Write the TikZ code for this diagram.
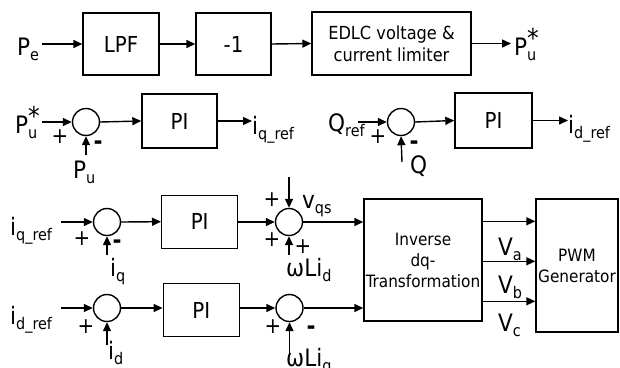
\documentclass[tikz,border=0pt]{standalone}
\usepackage{fontspec}
\setmainfont{DejaVu Sans Condensed}
\usetikzlibrary{arrows.meta}
\newcommand\sbs[1]{\raisebox{-5pt}{\fontsize{16}{16}\selectfont #1}}
\newcommand\stt{\raisebox{8pt}{\fontsize{26}{26}\selectfont *}}
\begin{document}
\begin{tikzpicture}[x=1pt,y=-1pt,
  blk/.style={draw,line width=1.4pt,inner sep=0pt,align=center,font=\fontsize{22}{24}\selectfont},
  sblk/.style={draw,line width=1.4pt,inner sep=0pt,align=center,font=\fontsize{17}{21}\selectfont},
  sum/.style={draw,circle,line width=1.4pt,minimum size=27pt,inner sep=0pt},
  lbl/.style={inner sep=0pt,anchor=base west,font=\fontsize{24}{26}\selectfont},
  sgn/.style={inner sep=0pt,font=\fontsize{22}{22}\selectfont},
  mns/.style={inner sep=0pt,font=\fontsize{24}{24}\selectfont\bfseries},
  arr/.style={line width=1.4pt,-{Triangle[length=9pt,width=8pt]}}]
\useasboundingbox (0,0) rectangle (620,367);
% ---------- row 1
\node[lbl] (pe) at (17,55) {P\sbs{e}};
\node[blk,minimum width=76pt,minimum height=62pt] (lpf) at (121,44) {LPF};
\node[blk,minimum width=75pt,minimum height=62pt] (neg) at (233.5,44) {-1};
\node[sblk,minimum width=159pt,minimum height=63pt,font=\fontsize{18}{22}\selectfont] (edlc) at (391.5,43.5) {EDLC voltage \&\\current limiter};
\node[lbl] (pus) at (514,55) {P\rlap{\sbs{u}}\stt};
\draw[arr,shorten <=3pt] (pe.east |- lpf.west) -- (lpf.west);
\draw[arr] (lpf.east) -- (neg.west);
\draw[arr] (neg.east) -- (edlc.west);
\draw[arr,shorten >=3pt] (edlc.east) -- (edlc.east -| pus.west);
% ---------- row 2 left
\node[lbl] (pu1) at (15,133) {P\rlap{\sbs{u}}\stt};
\node[sum] (s1) at (86,122) {};
\node[sgn] (p1) at (60,137) {+};
\node[mns] (m1) at (98,145) {-};
\node[lbl] (pu2) at (73,178) {P\sbs{u}};
\coordinate (s1b) at (86,155);
\node[blk,minimum width=75pt,minimum height=54pt] (pi1) at (179.5,121) {PI};
\node[lbl] (iqr1) at (252,134) {i\sbs{q\_ref}};
\draw[arr,shorten <=2pt] (pu1.east |- s1.west) -- (s1.west);
\draw[arr] (s1b) -- (s1.south);
\draw[arr] (s1.east) -- (pi1.west);
\draw[arr] (pi1.east) -- (pi1.east -| iqr1.west);
% ---------- row 2 right
\node[lbl] (qref) at (328,131) {Q\sbs{ref}};
\node[sum] (s2) at (401,122) {};
\node[sgn] (p2) at (378,137) {+};
\node[mns] (m2) at (414,145) {-};
\node[lbl] (q) at (410,173) {Q};
\coordinate (s2b) at (402,162);
\node[blk,minimum width=77pt,minimum height=55pt] (pi2) at (493.5,120.5) {PI};
\node[lbl] (idr1) at (568,133) {i\sbs{d\_ref}};
\draw[arr] ([xshift=30pt]qref.west |- s2.west) -- (s2.west);
\draw[arr] (s2b) -- (s2.south);
\draw[arr] (s2.east) -- (pi2.west);
\draw[arr] (pi2.east) -- (pi2.east -| idr1.west);
% ---------- row 3
\node[lbl] (iqr2) at (10,235) {i\sbs{q\_ref}};
\node[sum] (s3) at (107,222) {};
\node[sgn] (p3) at (82,239) {+};
\node[mns] (m3) at (117,244) {-};
\node[lbl] (iq) at (110,276) {i\sbs{q}};
\coordinate (s3b) at (107,255);
\node[blk,minimum width=76pt,minimum height=53pt] (pi3) at (199.7,221.7) {PI};
\node[sum] (s4) at (289,222) {};
\coordinate (s4t) at (289,177);
\coordinate (s4b) at (289,255);
\node[lbl] (vqs) at (302,208) {v\sbs{qs}};
\node[sgn] (p4a) at (272,200) {+};
\node[sgn] (p4b) at (272,240) {+};
\node[sgn] (p4c) at (303,247) {+};
\node[lbl] (wlid) at (286,276) {ωLi\sbs{d}};
\draw[arr,shorten <=9pt] (iqr2.east |- s3.west) -- (s3.west);
\draw[arr] (s3b) -- (s3.south);
\draw[arr] (s3.east) -- (pi3.west);
\draw[arr] (pi3.east |- s4.west) -- (s4.west);
\draw[arr] (s4t) -- (s4.north);
\draw[arr] (s4b) -- (s4.south);
% ---------- row 4
\node[lbl] (idr2) at (10,324) {i\sbs{d\_ref}};
\node[sum] (s5) at (107,308) {};
\node[sgn] (p5) at (86,327) {+};
\node[lbl] (id) at (108,359) {i\sbs{d}};
\coordinate (s5b) at (107,345);
\node[blk,minimum width=76pt,minimum height=53pt] (pi4) at (201.3,310) {PI};
\node[sum] (s6) at (289.5,308) {};
\node[sgn] (p6) at (273,327) {+};
\node[mns] (m6) at (311,330) {-};
\coordinate (s6b) at (289.5,353);
\node[lbl] (wliq) at (286,366) {ωLi\sbs{q}};
\draw[arr,shorten <=9pt] (idr2.east |- s5.west) -- (s5.west);
\draw[arr] (s5b) -- (s5.south);
\draw[arr] (s5.east) -- (pi4.west |- s5.east);
\draw[arr] (pi4.east |- s6.west) -- (s6.west);
\draw[arr] (s6b) -- (s6.south);
% ---------- right part
\node[sblk,minimum width=118pt,minimum height=122pt] (inv) at (423,260) {Inverse\\dq-\\Transformation};
\node[sblk,minimum width=82pt,minimum height=133pt] (pwm) at (577,265.5) {PWM\\Generator};
\draw[arr] (s4.east) -- (s4.east -| inv.west);
\draw[arr] (s6.east) -- (s6.east -| inv.west);
\draw[arr] ([yshift=-23pt]inv.north east) -- ([yshift=-23pt]inv.north east -| pwm.west);
\draw[arr] ([yshift=-63pt]inv.north east) -- ([yshift=-63pt]inv.north east -| pwm.west);
\draw[arr] ([yshift=-103pt]inv.north east) -- ([yshift=-103pt]inv.north east -| pwm.west);
\node[lbl] (va) at (498,255) {V\sbs{a}};
\node[lbl] (vb) at (498,293) {V\sbs{b}};
\node[lbl] (vc) at (498,331) {V\sbs{c}};
\end{tikzpicture}
\end{document}
